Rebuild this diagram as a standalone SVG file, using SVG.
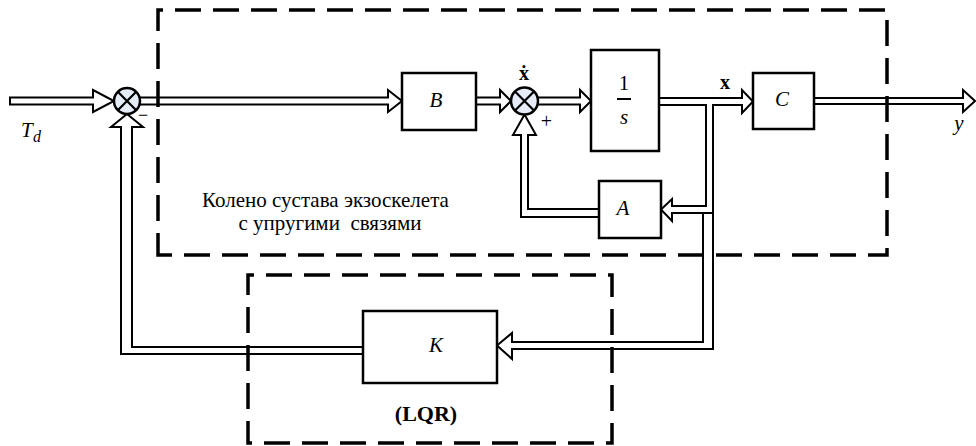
<svg xmlns="http://www.w3.org/2000/svg" width="976" height="446" viewBox="0 0 976 446">
<style>
  .blk { fill: #ffffff; stroke: #000000; stroke-width: 2.5; }
  .sum { fill: #e6ecf7; stroke: #000000; stroke-width: 2.5; }
  .cross { stroke: #000000; stroke-width: 2.2; fill: none; }
  .wire { fill: #ffffff; stroke: #000000; stroke-width: 2; stroke-linejoin: miter; }
  .ln { stroke: #000000; stroke-width: 2; fill: none; }
  .dash { fill: none; stroke: #000000; stroke-width: 3.5; stroke-dasharray: 26 12; }
</style>

<g id="connectors">
  <polygon class="wire" points="10,97.5 93,97.5 93,90 114,101 93,112 93,104.5 10,104.5"/>
  <polyline class="wire" points="140,97.5 388,97.5 388,90 402,101 388,112 388,104.5 140,104.5"/>
  <polyline class="wire" points="476,97.5 500,97.5 500,90 511,101 500,112 500,104.5 476,104.5"/>
  <polyline class="wire" points="538,97.5 580,97.5 580,90 591,101 580,112 580,104.5 538,104.5"/>
  <polyline class="wire" points="659,98 742,98 742,90 753,101.5 742,113 742,105 713,105 713,349 512,349 512,359 497,345.5 512,333 512,342 703,342 703,213 672,213 672,221 661,209.5 672,199 672,206 706,206 706,105 659,105"/>
  <line class="ln" x1="703" y1="213" x2="713" y2="213"/>
  <polyline class="wire" points="363,347 132,347 132,127 143,127 127,114 111,127 121,127 121,354 363,354"/>
  <polyline class="wire" points="599,209 528,209 528,135 536,135 524.5,114.5 513,135 521,135 521,217 599,217"/>
  <polyline class="wire" points="814,98 963,98 963,90 975,101 963,112 963,104 814,104"/>
</g>

<g id="sum1">
  <circle class="sum" cx="127" cy="101" r="13"/>
  <path class="cross" d="M117.8,91.8 L136.2,110.2 M136.2,91.8 L117.8,110.2"/>
  <text x="143" y="121" text-anchor="middle" font-family="Liberation Serif" font-size="18">&#x2212;</text>
</g>

<g id="sum2">
  <circle class="sum" cx="524.5" cy="101" r="13.5"/>
  <path class="cross" d="M515,91.5 L534,110.5 M534,91.5 L515,110.5"/>
  <text x="546.5" y="128" text-anchor="middle" font-family="Liberation Serif" font-size="20">+</text>
  <text x="524" y="80" text-anchor="middle" font-family="Liberation Serif" font-weight="bold" font-size="20">&#x1E8B;</text>
</g>

<g id="B">
  <rect class="blk" x="402" y="73" width="74" height="57"/>
  <text x="436" y="107" text-anchor="middle" font-family="Liberation Serif" font-style="italic" font-size="21">B</text>
</g>

<g id="integrator">
  <rect class="blk" x="591" y="50" width="68" height="101"/>
  <text x="624" y="90" text-anchor="middle" font-family="Liberation Serif" font-size="21">1</text>
  <line class="ln" x1="617" y1="99" x2="631" y2="99"/>
  <text x="624" y="124" text-anchor="middle" font-family="Liberation Serif" font-style="italic" font-size="21">s</text>
</g>

<g id="C">
  <rect class="blk" x="753" y="73" width="61" height="56"/>
  <text x="782" y="106" text-anchor="middle" font-family="Liberation Serif" font-style="italic" font-size="21">C</text>
</g>

<g id="A">
  <rect class="blk" x="599" y="181" width="62" height="57"/>
  <text x="623" y="215" text-anchor="middle" font-family="Liberation Serif" font-style="italic" font-size="21">A</text>
</g>

<g id="K">
  <rect class="blk" x="363" y="311" width="134" height="72"/>
  <text x="436" y="352" text-anchor="middle" font-family="Liberation Serif" font-style="italic" font-size="21">K</text>
</g>

<g id="labels">
  <text x="21" y="137" font-family="Liberation Serif" font-style="italic" font-size="21">T</text>
  <text x="33" y="142" font-family="Liberation Serif" font-style="italic" font-size="16">d</text>
  <text x="725" y="89" text-anchor="middle" font-family="Liberation Serif" font-weight="bold" font-size="20">x</text>
  <text x="959" y="130" text-anchor="middle" font-family="Liberation Serif" font-style="italic" font-size="21">y</text>
  <text x="325.5" y="207" text-anchor="middle" font-family="Liberation Serif" font-size="21">Колено сустава экзоскелета</text>
  <text x="330" y="230" text-anchor="middle" font-family="Liberation Serif" font-size="21" xml:space="preserve">с упругими  связями</text>
  <text x="426" y="421" text-anchor="middle" font-family="Liberation Serif" font-weight="bold" font-size="22">(LQR)</text>
</g>

<g id="plant-boundary">
  <path class="dash" d="M158,255 L158,10 L887,10 L887,255 Z" stroke-dashoffset="4"/>
</g>
<g id="lqr-boundary">
  <path class="dash" d="M248,443 L248,275 L612,275 L612,443 Z" stroke-dashoffset="4"/>
</g>
</svg>
